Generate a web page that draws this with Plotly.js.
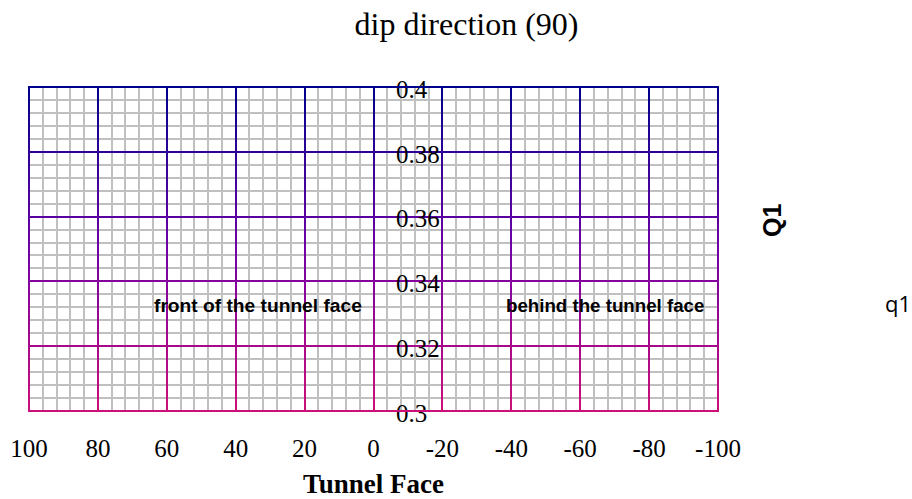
<!DOCTYPE html>
<html>
<head>
<meta charset="utf-8">
<script src="https://cdn.plot.ly/plotly-3.0.1.min.js"></script>
<style>html,body{margin:0;padding:0;background:#fff;}#chart{width:912px;height:499px;}</style>
</head>
<body>
<div id="chart"></div>
<script>
// ---- data ----
const xTickValues = [100, 80, 60, 40, 20, 0, -20, -40, -60, -80, -100];
const xTickLabels = ['100', '80', '60', '40', '20', '0', '-20', '-40', '-60', '-80', '-100'];
const yTickValues = [0.3, 0.32, 0.34, 0.36, 0.38, 0.4];
const yTickLabels = ['0.3', '0.32', '0.34', '0.36', '0.38', '0.4'];
const xRange = [100, -100];
const yRange = [0.3, 0.4];
const seriesName = 'q1';
const seriesX = [null];
const seriesY = [null];
const regionLabels = ['front of the tunnel face', 'behind the tunnel face'];
const regionX = [33.5, -67.2];
const regionY = [0.3327, 0.3327];

// ---- styling ----
const W = 912, H = 499;
const M = {l: 29, r: 194, t: 87, b: 88, autoexpand: false};
const MARK = 'rgb(1, 1, 1)';
const stops = [[0, [0, 0, 140]], [0.5, [112, 0, 165]], [1, [205, 15, 120]]];
function colorAt(t) {
  t = Math.max(0, Math.min(1, t));
  for (let i = 0; i < stops.length - 1; i++) {
    const [a, ca] = stops[i], [b, cb] = stops[i + 1];
    if (t <= b) {
      const f = (t - a) / (b - a);
      const c = ca.map((v, k) => Math.round(v + (cb[k] - v) * f));
      return `rgb(${c[0]},${c[1]},${c[2]})`;
    }
  }
  const c = stops[stops.length - 1][1];
  return `rgb(${c[0]},${c[1]},${c[2]})`;
}

const serif = 'Liberation Serif, Times New Roman, serif';
const sansBold = 'Liberation Sans, Arial, sans-serif';

const data = [{
  type: 'scatter', mode: 'lines', name: seriesName,
  x: seriesX, y: seriesY,
  line: {color: 'rgba(0,0,0,0)'},
  showlegend: true, hoverinfo: 'skip'
}];

const layout = {
  width: W, height: H,
  margin: M,
  paper_bgcolor: '#fff', plot_bgcolor: '#fff',
  title: {
    text: 'dip direction (90)',
    font: {family: serif, size: 32, color: '#000'},
    xref: 'paper', x: (466.5 - M.l) / (W - M.l - M.r), xanchor: 'center',
    yref: 'container', y: 1 - 24 / H, yanchor: 'middle'
  },
  xaxis: {
    range: xRange, autorange: false,
    tickmode: 'array', tickvals: xTickValues, ticktext: xTickLabels,
    tickfont: {family: serif, size: 25, color: '#000'},
    ticks: '', ticklabelstandoff: 20,
    showline: false, zeroline: false,
    showgrid: true, gridcolor: MARK, gridwidth: 2,
    minor: {tickmode: 'linear', tick0: 0, dtick: 4, showgrid: true, gridcolor: '#c0c0c0', gridwidth: 2},
    title: {text: '<b>Tunnel Face</b>', font: {family: serif, size: 27, color: '#000'}, standoff: 15},
    fixedrange: true
  },
  yaxis: {
    range: yRange, autorange: false,
    anchor: 'free', position: (395 - M.l) / (W - M.l - M.r), side: 'right',
    tickmode: 'array', tickvals: yTickValues, ticktext: yTickLabels,
    tickfont: {family: serif, size: 25, color: '#000'},
    ticks: '', ticklabelshift: 2,
    showline: false, zeroline: false,
    showgrid: true, gridcolor: MARK, gridwidth: 2,
    minor: {tickmode: 'linear', tick0: 0.3, dtick: 0.004, showgrid: true, gridcolor: '#c0c0c0', gridwidth: 2},
    fixedrange: true
  },
  shapes: [{
    type: 'rect', xref: 'paper', yref: 'paper', x0: 0, x1: 1, y0: 0, y1: 1,
    line: {color: MARK, width: 2}, fillcolor: 'rgba(0,0,0,0)', layer: 'above'
  }],
  annotations: [
    {text: '<b>' + regionLabels[0] + '</b>', x: regionX[0], y: regionY[0], xref: 'x', yref: 'y',
     showarrow: false, font: {family: sansBold, size: 19.2, color: '#000'}},
    {text: '<b>' + regionLabels[1] + '</b>', x: regionX[1], y: regionY[1], xref: 'x', yref: 'y',
     showarrow: false, font: {family: sansBold, size: 18.7, color: '#000'}},
    {text: '<b>Q1</b>', xref: 'paper', yref: 'paper',
     x: (788 - M.l) / (W - M.l - M.r), y: (H - M.b - 221) / (H - M.t - M.b),
     textangle: -90, showarrow: false, font: {family: sansBold, size: 25, color: '#000'}}
  ],
  showlegend: true,
  legend: {
    x: (845 - M.l) / (W - M.l - M.r), xanchor: 'left',
    y: (H - M.b - 304) / (H - M.t - M.b), yanchor: 'middle',
    bgcolor: 'rgba(0,0,0,0)', borderwidth: 0,
    font: {family: 'Open Sans, sans-serif', size: 22, color: '#000'}
  }
};

Plotly.newPlot('chart', data, layout, {staticPlot: true, displayModeBar: false}).then(gd => {
  const svg = gd.querySelector('svg.main-svg');
  const ns = 'http://www.w3.org/2000/svg';
  let defs = svg.querySelector('defs');
  if (!defs) { defs = document.createElementNS(ns, 'defs'); svg.insertBefore(defs, svg.firstChild); }
  const svgTop = svg.getBoundingClientRect().top;
  const plotTop = M.t, plotH = H - M.t - M.b;
  let n = 0;
  gd.querySelectorAll('path').forEach(p => {
    if (p.style.stroke !== MARK) return;
    const bb = p.getBBox();
    if (bb.height > 1) {
      const g = document.createElementNS(ns, 'linearGradient');
      const id = 'gridgrad' + (n++);
      g.setAttribute('id', id);
      g.setAttribute('gradientUnits', 'userSpaceOnUse');
      g.setAttribute('x1', 0); g.setAttribute('x2', 0);
      g.setAttribute('y1', bb.y); g.setAttribute('y2', bb.y + bb.height);
      stops.forEach(([o, c]) => {
        const s = document.createElementNS(ns, 'stop');
        s.setAttribute('offset', o);
        s.setAttribute('stop-color', `rgb(${c[0]},${c[1]},${c[2]})`);
        g.appendChild(s);
      });
      defs.appendChild(g);
      p.style.stroke = `url(#${id})`;
    } else {
      const r = p.getBoundingClientRect();
      const y = r.top + r.height / 2 - svgTop;
      p.style.stroke = colorAt((y - plotTop) / plotH);
    }
  });
});
</script>
</body>
</html>
